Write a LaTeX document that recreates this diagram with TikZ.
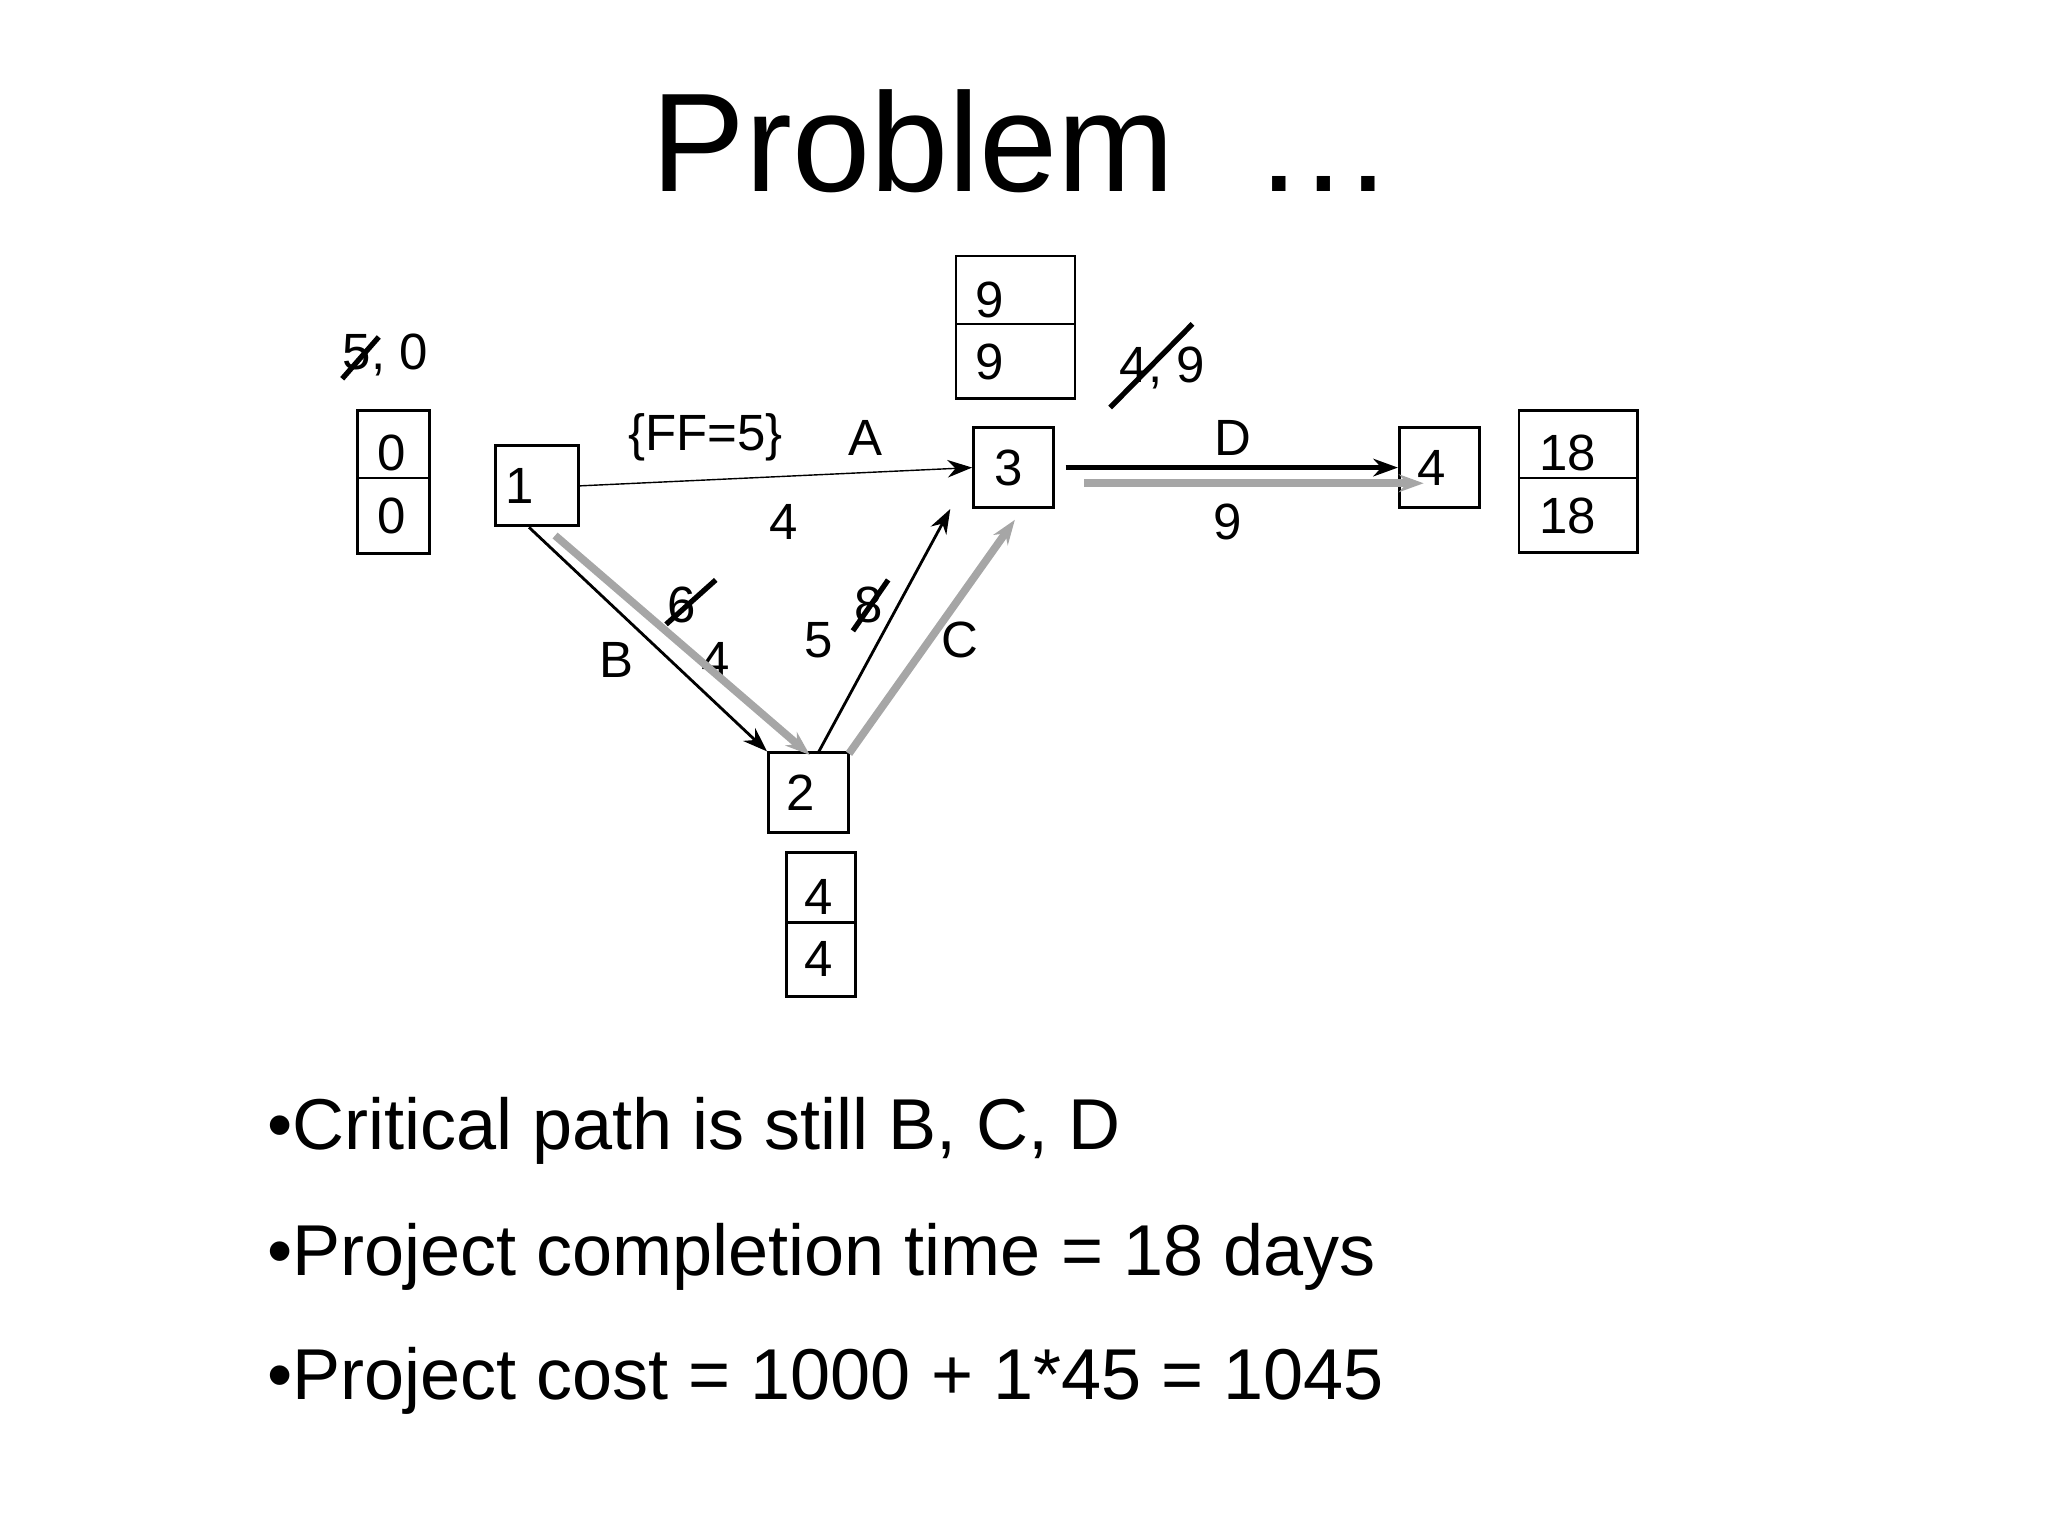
\documentclass[tikz,border=0pt]{standalone}
\usepackage{fontspec}
\setmainfont{Liberation Sans}
\usetikzlibrary{arrows.meta}
\begin{document}
\begin{tikzpicture}[x=0.01306cm,y=-0.01306cm,
  nd/.style={draw,thick,minimum width=0.8cm,minimum height=0.8cm,inner sep=0pt,font=\fontsize{14.5}{16}\selectfont},
  lb/.style={font=\fontsize{14.5}{16}\selectfont,inner sep=0pt},
  bx/.style={draw,thick},
  blk/.style={-{Stealth[length=7pt,width=5pt]},thick},
  gry/.style={-{Stealth[length=7pt,width=5pt]},line width=2.2pt,gray!70},
  strike/.style={line width=1.5pt}]
\useasboundingbox (0,0) rectangle (1568,1176);
\node[font=\fontsize{40}{44}\selectfont] (title) at (783,108) {Problem \ …};
% nodes
\node[nd,minimum width=0.83cm] (n1) at (411,372) {\hspace*{-0.35cm}1};
\node[nd] (n3) at (776,358) {\hspace*{-0.1cm}3};
\node[nd] (n4) at (1102,358) {\hspace*{-0.15cm}4};
\node[nd] (n2) at (619,607) {\hspace*{-0.15cm}2};
% time boxes
\draw[bx] (274,314) rectangle (329,424); \draw[bx] (274,366) -- (329,366);
\node[lb] (t0a) at (300,347) {0}; \node[lb] (t0b) at (300,395) {0};
\draw[bx] (732,196) rectangle (823,305); \draw[bx] (732,248) -- (823,248);
\node[lb] (t3a) at (758,230) {9}; \node[lb] (t3b) at (758,277) {9};
\draw[bx] (1163,314) rectangle (1254,423); \draw[bx] (1163,366) -- (1254,366);
\node[lb] (t4a) at (1200,347) {18}; \node[lb] (t4b) at (1200,395) {18};
\draw[bx] (602,653) rectangle (655,763); \draw[bx] (602,706) -- (655,706);
\node[lb] (t2a) at (627,687) {4}; \node[lb] (t2b) at (627,734) {4};
% labels
\node[lb] (s1) at (295,272) {5, 0}; \draw[strike] (262,290) -- (290,258);
\node[lb] (s3) at (890,282) {4, 9}; \draw[strike] (850,312) -- (913,248);
\node[lb] (ff) at (540,335) {\{FF=5\}};
\node[lb] (la) at (663,335) {A};
\node[lb] (da) at (600,400) {4};
\node[lb] (ld) at (944,335) {D};
\node[lb] (dd) at (940,400) {9};
\node[lb] (lbB) at (472,505) {B};
\node[lb] (db) at (548,505) {4};
\node[lb] (ob) at (522,463) {6}; \draw[strike] (510,478) -- (548,444);
\node[lb] (dc) at (627,490) {5};
\node[lb] (oc) at (665,463) {8}; \draw[strike] (653,483) -- (680,444);
\node[lb] (lc) at (735,490) {C};
% connectors
\coordinate (g1s) at (425,410); \coordinate (g1e) at (620,578);
\coordinate (g2s) at (650,577); \coordinate (g2e) at (777,398);
\coordinate (g3s) at (830,370); \coordinate (g3e) at (1090,370);
\draw[gry] (g1s) -- (g1e);
\draw[gry] (g2s) -- (g2e);
\draw[gry] (g3s) -- (g3e);
\draw[blk,thin] (n1.east) -- (n3.west);
\draw[blk] (n1.south) ++(-6,0) coordinate (b1) (b1) -- (n2.north west);
\draw[blk] (n2.north) ++(8,0) coordinate (c1) (c1) -- ([xshift=-18]n3.south);
\draw[blk,line width=1.6pt] ([xshift=3]n3.east) -- (n4.west);
% bullets
\node[anchor=west,font=\fontsize{20.5}{24}\selectfont] (b1t) at (195,866) {•Critical path is still B, C, D};
\node[anchor=west,font=\fontsize{20.5}{24}\selectfont] (b2t) at (195,962) {•Project completion time = 18 days};
\node[anchor=west,font=\fontsize{20.5}{24}\selectfont] (b3t) at (195,1057) {•Project cost = 1000 + 1*45 = 1045};
\end{tikzpicture}
\end{document}
